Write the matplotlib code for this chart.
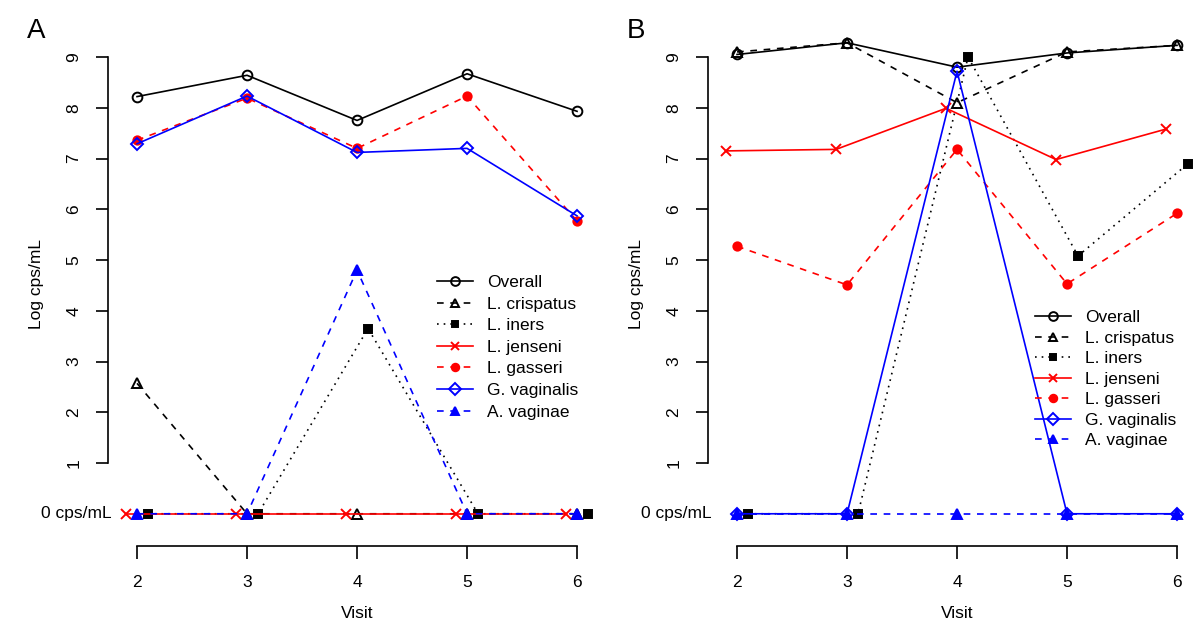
import matplotlib
matplotlib.use("Agg")
import matplotlib.pyplot as plt
import numpy as np

visits = [2, 3, 4, 5, 6]
series_names = ["Overall", "L. crispatus", "L. iners", "L. jenseni",
                "L. gasseri", "G. vaginalis", "A. vaginae"]

# Panel A values (log cps/mL; 0 = 0 cps/mL)
a_overall = [8.22, 8.64, 7.75, 8.67, 7.93]
a_crispatus = [2.57, 0, 0, 0, 0]
a_iners = [0, 0, 3.65, 0, 0]
a_jenseni = [0, 0, 0, 0, 0]
a_gasseri = [7.36, 8.19, 7.20, 8.23, 5.77]
a_vaginalis = [7.29, 8.23, 7.12, 7.20, 5.87]
a_vaginae = [0, 0, 4.80, 0, 0]

# Panel B values
b_overall = [9.05, 9.28, 8.80, 9.08, 9.23]
b_crispatus = [9.10, 9.28, 8.10, 9.10, 9.23]
b_iners = [0, 0, 9.00, 5.08, 6.90]
b_jenseni = [7.15, 7.18, 7.99, 6.98, 7.58]
b_gasseri = [5.27, 4.51, 7.18, 4.53, 5.92]
b_vaginalis = [0, 0, 8.72, 0, 0]
b_vaginae = [0, 0, 0, 0, 0]

y_ticks = [1, 2, 3, 4, 5, 6, 7, 8, 9]
zero_label = "0 cps/mL"

# styles: (color, linestyle, marker, filled, x offset)
styles = {
    "Overall": ("black", "-", "o", False, 0.0),
    "L. crispatus": ("black", (0, (4, 4)), "^", False, 0.0),
    "L. iners": ("black", (0, (1, 3)), "s", True, 0.1),
    "L. jenseni": ("red", "-", "x", True, -0.1),
    "L. gasseri": ("red", (0, (4, 4)), "o", True, 0.0),
    "G. vaginalis": ("blue", "-", "D", False, 0.0),
    "A. vaginae": ("blue", (0, (4, 4)), "^", True, 0.0),
}
msizes = {("o", False): 7.0, ("o", True): 6.0, ("^", False): 7.0, ("^", True): 7.0,
          ("s", True): 5.5, ("x", True): 7.0, ("D", False): 6.5}

W, H = 1200, 628
plt.rcParams["font.family"] = ["Liberation Sans", "DejaVu Sans"]
fig = plt.figure(figsize=(12, 6.28), dpi=100)

panels = [
    ("A", 0, [a_overall, a_crispatus, a_iners, a_jenseni, a_gasseri, a_vaginalis, a_vaginae],
     (437, 275), 0.37),
    ("B", 600, [b_overall, b_crispatus, b_iners, b_jenseni, b_gasseri, b_vaginalis, b_vaginae],
     (1035, 310), 0.31),
]

px_per_x = 110.0
left0, bottom_px, top_px = 108, 546, 22.5
xlim = (1.736, 6.268)
ylim = (-0.635, 9.68)
fs = 12.5

for letter, dx, data, legpos, lsp in panels:
    l = (left0 + dx) / W
    wpx = (xlim[1] - xlim[0]) * px_per_x
    r = (left0 + dx + wpx) / W
    ax = fig.add_axes([l, 1 - bottom_px / H, r - l, (bottom_px - top_px) / H])
    ax.set_xlim(*xlim)
    ax.set_ylim(*ylim)
    for name, vals in zip(series_names, data):
        c, ls, m, filled, off = styles[name]
        xs = np.array(visits) + off
        kw = dict(color=c, linestyle=ls, marker=m, markersize=msizes[(m, filled)], linewidth=1.2,
                  markeredgewidth=1.4, label=name, clip_on=False)
        kw["markerfacecolor"] = c if filled else "none"
        kw["markeredgecolor"] = c
        ax.plot(xs, vals, **kw)
    for s in ["top", "right"]:
        ax.spines[s].set_visible(False)
    ax.spines["left"].set_bounds(y_ticks[0], y_ticks[-1])
    ax.spines["bottom"].set_bounds(visits[0], visits[-1])
    for s in ["left", "bottom"]:
        ax.spines[s].set_linewidth(1.2)
    ax.set_xticks(visits)
    ax.set_xticklabels([str(v) for v in visits], fontsize=fs)
    ax.set_yticks(y_ticks)
    ax.set_yticklabels([str(v) for v in y_ticks], fontsize=fs, rotation=90, va="center")
    ax.tick_params(axis="both", direction="out", length=9, width=1.2)
    ax.tick_params(axis="y", pad=10)
    ax.tick_params(axis="x", pad=12)
    ax.set_xlabel("Visit", fontsize=fs)
    ax.xaxis.set_label_coords(0.5, -(613 - bottom_px) / (bottom_px - top_px))
    ax.xaxis.label.set_va("center")
    ax.set_ylabel("Log cps/mL", fontsize=fs)
    ax.yaxis.set_label_coords((37 - left0) / wpx, 0.5)
    ax.yaxis.label.set_va("center")
    fig.text((112 + dx) / W, 1 - 513.75 / H, zero_label, ha="right", va="center", fontsize=fs)
    fig.text((27 + dx) / W, 1 - 31 / H, letter, ha="left", va="center", fontsize=20)
    ax.legend(loc="upper left", bbox_to_anchor=(legpos[0] / W, 1 - legpos[1] / H),
              bbox_transform=fig.transFigure, frameon=False, fontsize=fs,
              borderpad=0, borderaxespad=0, handlelength=2.1, handletextpad=0.8,
              labelspacing=lsp, markerscale=0.9)

fig.savefig("out.png", dpi=100)
